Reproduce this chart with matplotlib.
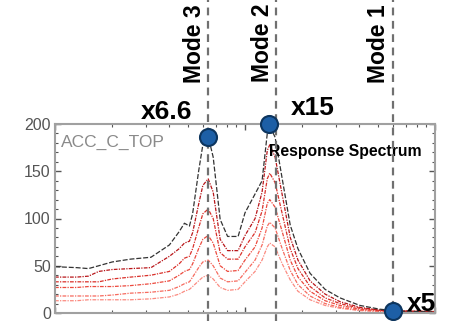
import matplotlib
matplotlib.use('Agg')
import matplotlib.pyplot as plt
from matplotlib.ticker import LogLocator, MultipleLocator, NullFormatter

plt.rcParams['font.family'] = ['Liberation Sans', 'DejaVu Sans']

# 周波数 (Hz) と応答スペクトル
freq = [0.10, 0.13, 0.15, 0.17, 0.20, 0.25, 0.32, 0.40, 0.45, 0.48, 0.51, 0.53,
        0.57, 0.60, 0.64, 0.68, 0.74, 0.81, 0.92, 1.00, 1.13, 1.23, 1.31, 1.35,
        1.44, 1.57, 1.73, 1.90, 2.20, 2.64, 3.16, 4.03, 5.13, 6.55, 10.0]
acc_black = [49, 48, 47, 50, 54, 57, 59, 72, 86, 95, 92, 105, 150, 178, 187, 165,
             99, 81, 81, 106, 126, 140, 190, 198, 186, 142, 93, 68, 42, 25, 16, 8,
             4, 2, 1]
acc_red1 = [38, 38, 39, 44, 46, 47, 48, 60, 68, 74, 76, 85, 115, 135, 142, 128,
            78, 66, 66, 82, 100, 128, 172, 178, 165, 125, 80, 56, 34, 20, 12, 6,
            3, 2, 1.5]
acc_red2 = [33, 33, 33, 33, 36, 38, 40, 44, 52, 58, 60, 68, 90, 105, 110, 100,
            64, 57, 57, 70, 85, 108, 142, 148, 138, 105, 68, 47, 28, 16, 10, 5,
            3, 2, 1.5]
acc_red3 = [27, 27, 28, 28, 28, 29, 31, 34, 40, 44, 46, 52, 68, 78, 82, 74,
            50, 44, 45, 56, 70, 90, 116, 120, 112, 86, 56, 38, 23, 13, 8, 4,
            2.5, 2, 1.5]
acc_red4 = [18, 18, 18, 18, 19, 21, 22, 24, 28, 31, 33, 38, 48, 54, 56, 50,
            37, 33, 34, 43, 56, 72, 92, 96, 90, 68, 45, 30, 18, 10, 6, 3,
            2, 1.5, 1.5]
acc_red5 = [13, 13, 14, 14, 14, 14, 15, 17, 20, 23, 25, 28, 34, 38, 40, 36,
            27, 24, 25, 33, 44, 56, 70, 74, 70, 52, 35, 23, 14, 8, 5, 2.5,
            1.5, 1, 1]

# モード (周波数) とピーク点、倍率ラベル
mode_names = ['Mode 1', 'Mode 2', 'Mode 3']
mode_freq = [6.0, 1.46, 0.64]
peak_freq = [6.0, 1.34, 0.64]
peak_acc = [2, 200, 186]
peak_labels = ['x5', 'x15', 'x6.6']

W, H = 465, 321
fig = plt.figure(figsize=(W / 100, H / 100), dpi=100)
ax = fig.add_axes([55 / W, 8 / H, 380 / W, 189 / H])

red_series = [acc_red5, acc_red4, acc_red3, acc_red2, acc_red1]
red_colors = ['#fb8a80', '#f66a5e', '#ec4a3e', '#d9302a', '#b8161a']
for vals, c in zip(red_series, red_colors):
    ax.plot(freq, vals, color=c, lw=0.9, ls=(0, (3, 1, 1, 1)))
ax.plot(freq, acc_black, color='#333333', lw=0.9, ls=(0, (4, 1.5)))

ax.set_xscale('log')
ax.set_xlim(0.1, 10)
ax.set_ylim(0, 200)
ax.xaxis.set_major_locator(LogLocator(base=10))
ax.xaxis.set_minor_locator(LogLocator(base=10, subs=range(2, 10)))
ax.xaxis.set_major_formatter(NullFormatter())
ax.xaxis.set_minor_formatter(NullFormatter())
ax.yaxis.set_major_locator(MultipleLocator(50))
ax.yaxis.set_minor_locator(MultipleLocator(10))
ax.tick_params(which='both', direction='in', top=True, right=True,
               colors='#555555', labelcolor='#555555', labelsize=11.5, pad=3)
ax.tick_params(which='major', length=4, width=1)
ax.tick_params(which='minor', length=2, width=0.8)
for s in ax.spines.values():
    s.set_color('#a0a0a0')
    s.set_linewidth(1.5)

ax.text(0.015, 0.9, 'ACC_C_TOP', transform=ax.transAxes, color='#8a8a8a',
        fontsize=12.5, va='center', ha='left')
ax.text(0.765, 0.855, 'Response Spectrum', transform=ax.transAxes, color='black',
        fontsize=11.3, fontweight='bold', va='center', ha='center')

# モードの縦破線とラベル
for name, f in zip(mode_names, mode_freq):
    ax.axvline(f, ymin=-0.05, ymax=1.67, color='#707070', lw=1.6,
               dashes=(3.5, 2.5), clip_on=False, zorder=5)
    xa = ax.transData.transform((f, 0))[0]
    fig.text((xa - 14) / W, (H - 4) / H, name, rotation=90, ha='center',
             va='top', fontsize=16.5, fontweight='bold')

# ピーク点
ax.scatter(peak_freq, peak_acc, s=150, color='#1d5fa6', edgecolor='#0d355e',
           linewidth=1.5, zorder=10, clip_on=False)
offsets = [(14, -5), (22, 4), (-67, 13)]
for f, a, lab, (dx, dy) in zip(peak_freq, peak_acc, peak_labels, offsets):
    ax.annotate(lab, (f, a), xytext=(dx, dy), textcoords='offset pixels',
                fontsize=19, fontweight='bold', ha='left', va='bottom',
                annotation_clip=False)

fig.savefig('out.png', dpi=100)
